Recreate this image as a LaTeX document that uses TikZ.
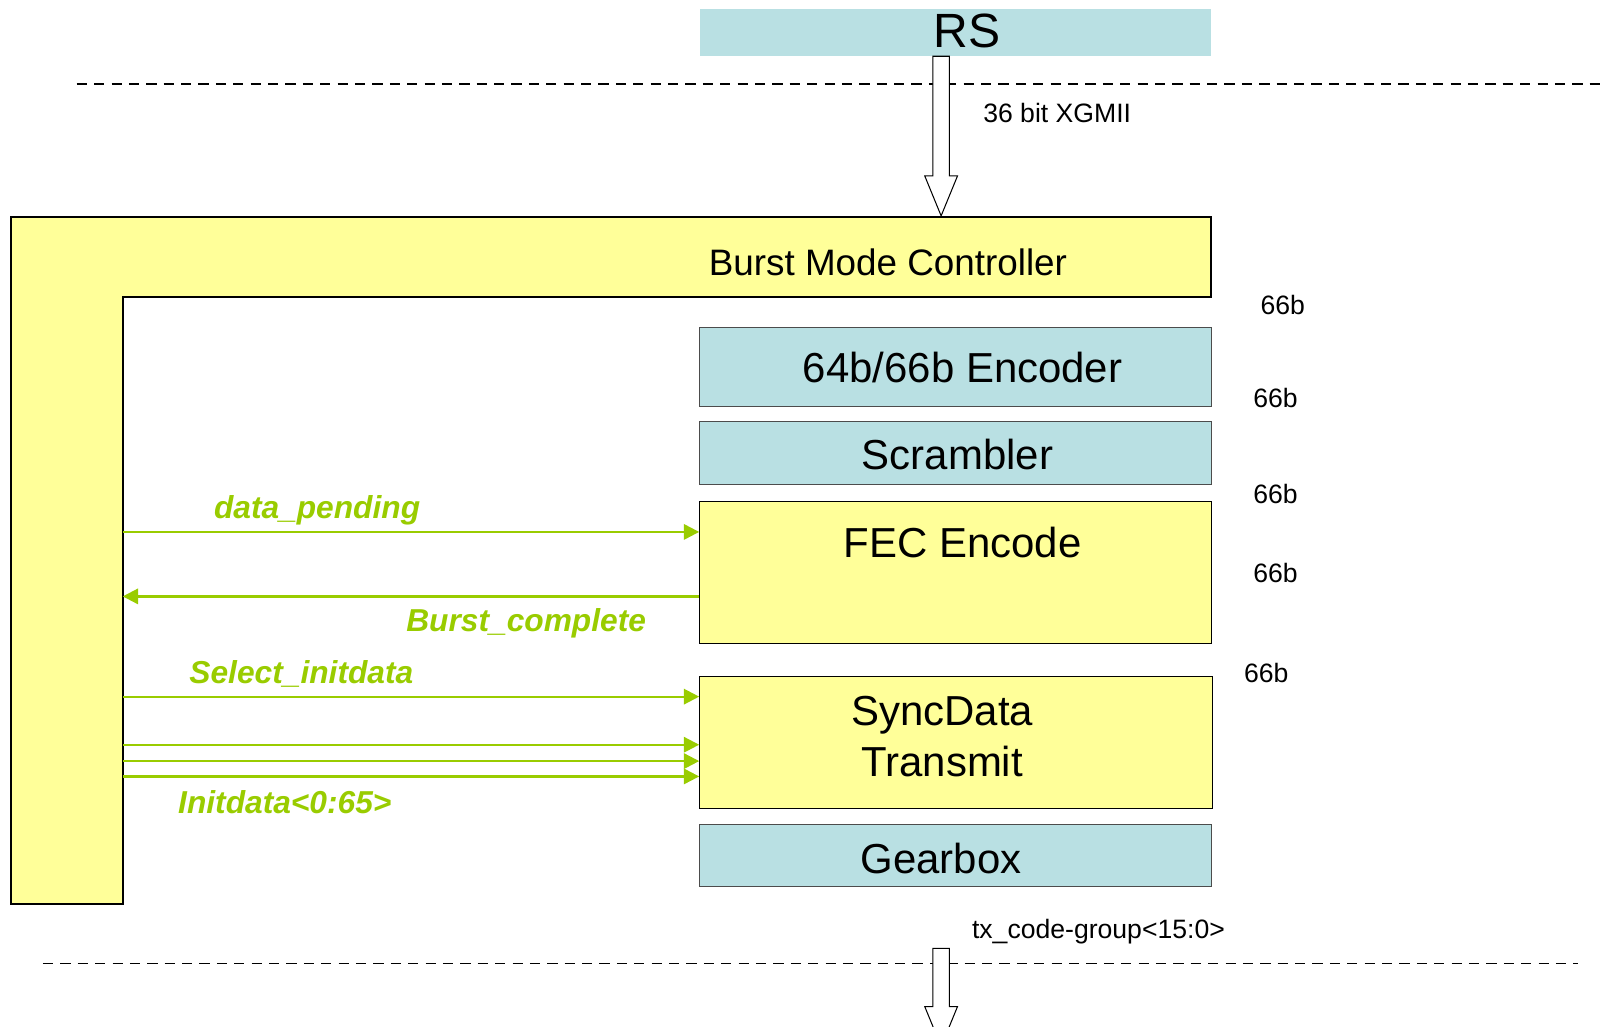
\documentclass[tikz,border=0pt]{standalone}
\usepackage{fontspec}
\setmainfont{Liberation Sans}
\usetikzlibrary{positioning,arrows.meta,calc}

\definecolor{pcsblue}{RGB}{185,224,227}
\definecolor{pcsyellow}{RGB}{255,255,153}
\definecolor{siggreen}{RGB}{153,204,0}

\tikzset{
  bluebox/.style={draw=black!70, fill=pcsblue, line width=1pt, minimum width=500pt, inner sep=0pt},
  yellowbox/.style={draw=black, fill=pcsyellow, line width=1pt, minimum width=500pt, inner sep=0pt},
  blocklabel/.style={font=\fontsize{41}{49}\selectfont, inner sep=0pt, align=center},
  smalllabel/.style={font=\fontsize{26}{31}\selectfont, inner sep=0pt, anchor=west},
  siglabel/.style={font=\fontsize{31}{37}\selectfont\bfseries\itshape, text=siggreen, inner sep=0pt, anchor=west},
  sig/.style={draw=siggreen, line width=2.2pt, -{Triangle[length=15pt,width=15pt]}},
  layer/.style={dash pattern=on 10pt off 7pt, line width=1.5pt},
  hollow/.style={draw=black, fill=white, line width=1pt}
}

% hollow block arrow: #1 = top of shaft, #2 = tip
\newcommand{\hollowarrow}[2]{%
  \draw[hollow] let \p1=(#1), \p2=(#2) in
    (\x1-8pt,\y1) -- (\x1+8pt,\y1) -- (\x1+8pt,\y2+39pt) -- (\x1+16pt,\y2+39pt)
    -- (\x2,\y2) -- (\x1-16pt,\y2+39pt) -- (\x1-8pt,\y2+39pt) -- cycle;}

\begin{document}
\begin{tikzpicture}[x=1pt, y=-1pt]
    \useasboundingbox (0,0) rectangle (1568,1003);

    % --- Reconciliation sublayer and layer borders ---
    \node[fill=pcsblue, minimum width=500pt, minimum height=46pt, inner sep=0pt] (rs) at (934,32) {};
    \node[blocklabel, font=\fontsize{47}{56}\selectfont] (rslabel) at (945,30) {RS};

    \draw[layer] (75,82) -- (1568,82);
    \draw[layer] (42,942) -- (1543,942);

    % --- Burst Mode Controller (L shape) ---
    \draw[line width=2pt, fill=pcsyellow] (11,212) -- (1184,212) -- (1184,290) -- (120,290)
        -- (120,884) -- (11,884) -- cycle;
    \coordinate (bmcleg) at (120,290);
    \node[font=\fontsize{36}{43}\selectfont, inner sep=0pt] (bmclabel) at (868,256) {Burst Mode Controller};

    % --- PCS transmit blocks ---
    \node[bluebox, minimum height=77pt] (enc) at (934,358.5) {};
    \node[blocklabel] (enclabel) at (941,359) {64b/66b Encoder};

    \node[bluebox, minimum height=62pt] (scr) at (934,443) {};
    \node[blocklabel] (scrlabel) at (936,444) {Scrambler};

    \node[yellowbox, minimum height=139pt] (fec) at (934,559.5) {};
    \node[blocklabel] (feclabel) at (941,530) {FEC Encode};

    \node[yellowbox, minimum height=129pt, minimum width=501pt] (sync) at (934.5,725.5) {};
    \node[blocklabel] (synclabel) at (921,720) {SyncData\\Transmit};

    \node[bluebox, minimum height=61pt] (gear) at (934,836.5) {};
    \node[blocklabel] (gearlabel) at (920,839) {Gearbox};

    % --- Data path widths ---
    \node[smalllabel] (w1) at (1232,298) {66b};
    \node[smalllabel] (w2) at (1225,389) {66b};
    \node[smalllabel] (w3) at (1225,483) {66b};
    \node[smalllabel] (w4) at (1225,560) {66b};
    \node[smalllabel] (w5) at (1216,658) {66b};

    % --- Interfaces in and out ---
    \coordinate (xgmiitop) at (920,55);
    \coordinate (xgmiitip) at (920,211);
    \hollowarrow{xgmiitop}{xgmiitip}
    \node[smalllabel] (xgmii) at (961,110) {36 bit XGMII};

    \coordinate (txtop) at (920,927);
    \coordinate (txtip) at (920,1023);
    \hollowarrow{txtop}{txtip}
    \node[smalllabel] (txcg) at (950,911) {tx\_code-group<15:0>};

    % --- Control signals ---
    \draw[sig] (bmcleg |- 0,520) -- (fec.west |- 0,520);
    \node[siglabel] (pending) at (209,499) {data\_pending};

    \draw[sig] (fec.west |- 0,583) -- (bmcleg |- 0,583);
    \node[siglabel] (complete) at (397,609) {Burst\_complete};

    \draw[sig] (bmcleg |- 0,681) -- (sync.west |- 0,681);
    \node[siglabel] (select) at (185,659) {Select\_initdata};

    \foreach \y in {728,744,759}
        \draw[sig] (bmcleg |- 0,\y) -- (sync.west |- 0,\y);
    \node[siglabel] (initdata) at (174,784) {Initdata<0:65>};

\end{tikzpicture}
\end{document}
